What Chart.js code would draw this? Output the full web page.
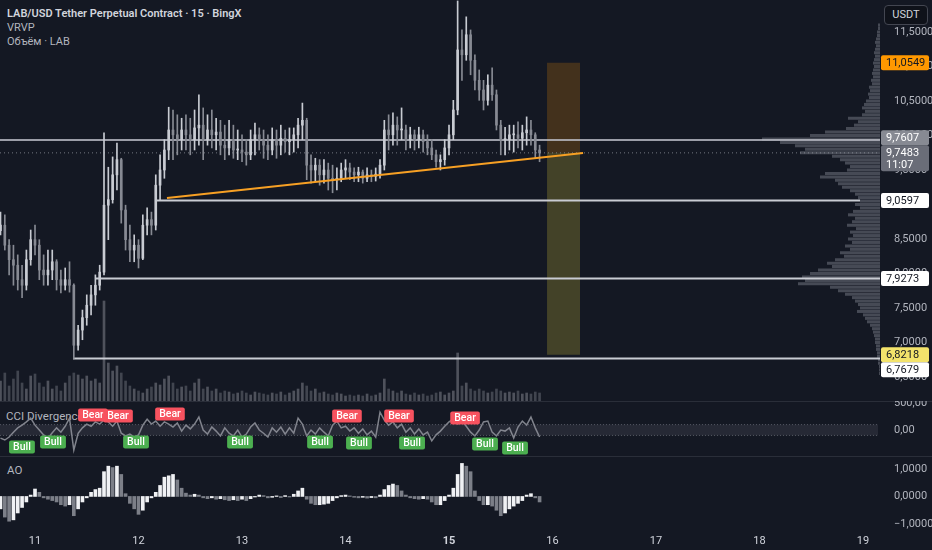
<!DOCTYPE html>
<html><head><meta charset="utf-8">
<script src="https://cdn.jsdelivr.net/npm/chart.js@4.4.1/dist/chart.umd.min.js"></script>
<style>
html,body{margin:0;padding:0;background:#141823;}
#wrap{position:relative;width:932px;height:550px;background:#141823;overflow:hidden;font-family:Roboto,"Noto Sans",sans-serif;}
.pane{position:absolute;left:0;width:932px;}
canvas{display:block}
.txt{position:absolute;white-space:nowrap;color:#b2b5be;font-size:11px;line-height:14px;}
.sep{position:absolute;left:0;width:932px;height:1px;background:#2a2e39;}
#usdt{position:absolute;left:884px;top:5px;width:42px;height:18px;border:1px solid #434651;border-radius:4px;background:#0f121a;color:#d1d4dc;font-size:11px;line-height:18px;text-align:center;}
</style></head><body>
<div id="wrap">
  <div class="txt" style="left:7px;top:7px;color:#d1d4dc;font-weight:600;">LAB/USD Tether Perpetual Contract · 15 · BingX</div>
  <div class="txt" style="left:7px;top:21px">VRVP</div>
  <div class="txt" style="left:7px;top:35px">Объём · LAB</div>
  <div class="txt" style="left:6px;top:409px;font-size:11.5px">CCI Divergence</div>
  <div class="txt" style="left:7px;top:463px;font-size:11.5px">AO</div>
  <div class="sep" style="top:401px"></div>
  <div class="sep" style="top:456px"></div>
  <div class="pane" style="top:0;height:401px"><canvas id="vp" width="932" height="401"></canvas></div>
  <div class="pane" style="top:0;height:401px"><canvas id="price" width="932" height="401"></canvas></div>
  <div class="pane" style="top:401px;height:55px"><canvas id="cci" width="932" height="55"></canvas></div>
  <div class="pane" style="top:456px;height:94px"><canvas id="ao" width="932" height="94"></canvas></div>
  <div id="usdt">USDT</div>
</div>
<script>
// ---------- data ----------
const X_MIN = 10.6618, X_MAX = 19.164;          // visible time range (days of month)
const T0 = 10 + 16 / 24;                         // first hourly candle: 10th 16:00
const open = [8.62,8.70,8.41,8.20,8.12,7.91,7.83,8.20,8.49,8.41,
8.05,7.98,8.05,8.17,7.91,7.83,7.91,7.83,6.96,7.18,
7.36,7.54,7.69,7.83,8.02,8.99,9.07,9.43,9.65,8.92,
8.49,8.34,8.41,8.22,8.70,8.78,8.70,9.28,9.50,9.79,
10.08,10.01,9.94,10.08,10.01,9.94,10.11,10.15,9.94,10.08,
10.01,10.05,9.86,9.82,9.94,9.79,9.79,9.76,9.72,9.94,
10.01,9.94,9.86,9.79,9.94,9.86,9.96,9.91,9.94,10.01,
10.15,10.22,9.57,9.50,9.57,9.43,9.50,9.38,9.36,9.38,
9.50,9.53,9.47,9.43,9.47,9.38,9.43,9.41,9.44,9.57,
10.08,10.01,10.15,10.08,10.08,9.94,10.01,9.94,10.01,9.91,
9.82,9.72,9.62,9.65,9.82,10.01,10.37,11.24,11.17,11.46,
11.09,10.80,10.66,10.51,10.73,10.59,10.15,9.94,9.94,10.01,
10.01,9.96,10.04,10.08,10.01,9.79];
const high = [8.89,8.85,8.49,8.41,8.27,8.12,8.34,8.63,8.70,8.49,
8.27,8.34,8.34,8.20,8.05,8.08,8.17,7.85,7.25,7.47,
7.69,7.83,7.98,8.12,10.04,9.54,9.69,9.89,9.67,8.99,
8.70,8.56,8.49,8.85,8.95,8.89,9.43,9.72,9.94,10.41,
10.37,10.30,10.25,10.30,10.25,10.37,10.59,10.40,10.30,10.37,
10.25,10.22,10.15,10.22,10.15,10.08,10.01,9.94,10.08,10.18,
10.11,10.08,10.01,10.11,10.08,10.15,10.08,10.11,10.11,10.25,
10.47,10.25,9.72,9.67,9.65,9.65,9.60,9.57,9.53,9.60,
9.65,9.60,9.53,9.54,9.50,9.53,9.50,9.53,9.65,10.22,
10.30,10.33,10.27,10.40,10.15,10.12,10.08,10.12,10.08,10.01,
9.94,9.79,9.72,9.94,10.15,10.51,11.95,11.53,11.72,11.53,
11.17,10.95,10.80,10.88,10.98,10.66,10.22,10.12,10.15,10.15,
10.20,10.15,10.27,10.22,10.04,9.86];
const low = [8.56,8.34,7.98,7.83,7.76,7.65,7.76,8.12,8.27,7.91,
7.83,7.83,7.91,7.76,7.72,7.76,7.73,6.7679,6.89,7.04,
7.25,7.40,7.54,7.76,7.98,8.49,9.02,9.21,8.73,8.34,
8.17,8.17,8.08,8.20,8.56,8.56,8.63,9.07,9.38,9.65,
9.65,9.72,9.79,9.79,9.72,9.79,9.86,9.65,9.86,9.82,
9.79,9.72,9.65,9.72,9.67,9.65,9.62,9.57,9.65,9.72,
9.79,9.67,9.65,9.72,9.67,9.72,9.76,9.72,9.76,9.82,
9.94,9.36,9.31,9.33,9.28,9.31,9.21,9.17,9.21,9.33,
9.38,9.36,9.33,9.33,9.31,9.33,9.33,9.34,9.38,9.50,
9.79,9.86,9.86,9.94,9.79,9.82,9.79,9.82,9.76,9.72,
9.65,9.54,9.50,9.57,9.72,9.94,10.30,10.80,11.09,10.88,
10.66,10.51,10.37,10.44,10.51,10.08,9.72,9.72,9.79,9.76,
9.82,9.79,9.86,9.86,9.67,9.62];
const close = [8.70,8.41,8.20,8.12,7.91,7.83,8.20,8.49,8.41,8.05,
7.98,8.05,8.17,7.91,7.83,7.91,7.83,6.96,7.18,7.36,
7.54,7.69,7.83,8.02,8.99,9.07,9.43,9.65,8.92,8.49,
8.34,8.41,8.22,8.70,8.78,8.70,9.28,9.50,9.79,10.08,
10.01,9.94,10.08,10.01,9.94,10.11,10.15,9.94,10.08,10.01,
10.05,9.86,9.82,9.94,9.79,9.79,9.76,9.72,9.94,10.01,
9.94,9.86,9.79,9.94,9.86,9.96,9.91,9.94,10.01,10.15,
10.22,9.57,9.50,9.57,9.43,9.50,9.38,9.36,9.38,9.50,
9.53,9.47,9.43,9.47,9.38,9.43,9.41,9.44,9.57,10.08,
10.01,10.15,10.08,10.08,9.94,10.01,9.94,10.01,9.91,9.82,
9.72,9.62,9.65,9.82,10.01,10.37,11.24,11.17,11.46,11.09,
10.80,10.66,10.51,10.73,10.59,10.15,9.94,9.94,10.01,10.01,
9.96,10.04,10.08,10.01,9.79,9.7483];
const volume = [20,28,15,22,30,18,12,25,27,18,
14,20,12,15,10,18,25,28,26,22,
25,20,22,18,100,38,30,35,28,20,
15,12,10,8,12,14,18,16,22,25,
18,12,14,15,10,18,22,12,14,10,
12,8,10,9,7,8,10,8,6,9,
8,7,6,8,7,9,6,8,10,12,
18,15,10,12,8,9,7,6,8,7,
5,6,5,6,5,7,5,6,8,22,
12,10,8,10,7,6,8,6,7,5,
6,8,9,6,8,10,48,15,18,12,
10,12,10,8,9,12,10,8,9,8,
10,7,8,7,9,8];
const cci = [-150,-185,-130,-40,40,90,150,220,90,0,
-90,-150,-50,40,-40,70,220,-370,-60,40,
110,70,150,110,185,150,70,165,-60,-110,
-75,-130,-90,90,200,110,165,70,150,110,
55,130,-20,90,20,110,240,0,-75,55,
-20,-110,40,-60,-110,0,-130,-75,55,130,
0,-60,-130,40,-40,55,-75,40,-60,220,
110,-110,0,-75,40,-40,-110,90,165,40,
70,-20,40,-60,20,-90,-20,-130,330,185,
90,150,40,110,-40,40,-75,20,-90,-40,
-200,-90,-20,70,150,200,110,165,70,-40,
-110,0,150,165,-40,-110,0,-20,40,-150,
55,165,90,240,40,-130];
const ao = [-0.45,-0.75,-0.9,-0.85,-0.6,-0.4,-0.2,0.05,0.27,0.15,
-0.05,-0.1,-0.15,-0.2,-0.3,-0.35,-0.3,-0.7,-0.45,-0.2,
-0.05,0.15,0.25,0.3,0.9,1.1,1.05,1.1,0.8,0.1,
-0.25,-0.45,-0.65,-0.5,-0.2,-0.05,0.15,0.4,0.7,0.75,
0.8,0.6,0.3,0.12,0.05,0.08,0.05,-0.05,-0.08,-0.05,
-0.1,-0.08,-0.12,-0.15,-0.12,-0.15,-0.1,-0.15,-0.08,-0.02,
0.05,0.03,-0.05,-0.03,0.02,-0.04,0.03,-0.02,0.08,0.2,
0.3,-0.1,-0.25,-0.3,-0.3,-0.28,-0.25,-0.15,-0.05,0.03,
0.05,0.02,-0.03,-0.05,-0.03,-0.06,-0.04,-0.05,0.05,0.25,
0.4,0.45,0.4,0.2,0.05,-0.05,-0.08,-0.1,-0.08,-0.1,
-0.2,-0.3,-0.3,-0.15,0.05,0.3,0.8,1.2,1.1,0.9,
0.2,-0.15,-0.3,-0.3,-0.35,-0.5,-0.7,-0.6,-0.45,-0.35,
-0.25,-0.15,0.05,0.1,-0.05,-0.2];
// volume profile (VRVP): price bins of 0.05 from 6.55 up to 11.60
const vpStart = 6.55, vpStep = 0.05;
const vpVol = [1,1,1,2,2,3,3,4,4,5,
5,6,7,8,10,13,15,17,23,20,
22,25,28,35,42,50,82,75,78,70,
62,48,53,45,36,40,30,35,28,32,
27,30,24,33,28,25,32,27,20,25,
20,22,25,30,38,42,45,60,55,33,
30,35,40,48,80,75,85,100,118,70,
55,34,26,22,32,18,15,18,16,14,
11,12,10,11,8,9,7,8,7,6,
7,6,5,6,5,4,5,4,3,3,
2,2];
// horizontal levels
const hLevel = [9.935, 9.0597, 7.9273, 6.7679];
const hFrom  = [X_MIN, 12.159, 11.580, 11.367];
const hTo    = [X_MAX, 18.971, X_MAX, X_MAX];
const lastPrice = 9.7483;
const trendX = [12.275, 16.295], trendY = [9.094, 9.746];
const boxX = [15.947, 16.266], boxTop = 11.0549, boxMid = 9.7483, boxBot = 6.8218;
const priceTicks = [6.5,7,7.5,8,8.5,9,9.5,10,10.5,11,11.5];
const priceTags = [
  {v:9.7483, t:'9,7483', t2:'11:07', bg:'#6a6d78', fg:'#ffffff', pri:0},
  {v:6.8218, t:'6,8218', bg:'#f3e36b', fg:'#131722', pri:0},
  {v:11.0549, t:'11,0549', bg:'#ff9800', fg:'#131722', pri:1},
  {v:9.0597, t:'9,0597', bg:'#ffffff', fg:'#131722', pri:1},
  {v:7.9273, t:'7,9273', bg:'#ffffff', fg:'#131722', pri:1},
  {v:9.7607, t:'9,7607', bg:'#878a93', fg:'#ffffff', pri:2},
  {v:6.7679, t:'6,7679', bg:'#ffffff', fg:'#131722', pri:2}
];
const bullX = [10.874,11.174,11.976,12.981,13.754,14.130,14.643,15.348,15.638];
const bullV = [-315,-222,-222,-222,-222,-241,-241,-259,-333];
const bearX = [11.560,11.802,12.304,14.014,14.517,15.155];
const bearV = [278,259,296,259,259,222];
const dayTicks = [11,12,13,14,15,16,17,18,19];

// ---------- helpers ----------
const FONT = 'Roboto, "Noto Sans", sans-serif';
const times = close.map((_, i) => T0 + i / 24);
const UPC = '#c8cbd2', DNC = '#878a93';
const isUp = i => close[i] >= open[i];
const fmt = (v, d) => (v < 0 ? '−' : '') + Math.abs(v).toFixed(d).replace('.', ',');
const yAxisFit = s => { s.width = 52; s.paddingTop = 0; s.paddingBottom = 0; };
const rightTicks = {color:'#b2b5be', font:{family:FONT, size:11}, padding:6};
const baseOpts = {
  responsive:false, animation:false, events:[],
  plugins:{legend:{display:false}, tooltip:{enabled:false}},
  layout:{padding:0}
};
function hline(y, x0, x1, color, width, dash, order){
  return {type:'line', data:[{x:x0,y:y},{x:x1,y:y}], borderColor:color, borderWidth:width,
          borderDash:dash||[], pointRadius:0, fill:false, order:order, yAxisID:'y'};
}

// ---------- VRVP ----------
new Chart(document.getElementById('vp'), {
  type:'bar',
  data:{datasets:[{
    data: vpVol.map((w, i) => ({x:w, y: vpStart + i * vpStep})),
    backgroundColor:'rgba(120,123,135,0.5)', borderWidth:0,
    barPercentage:0.88, categoryPercentage:1
  }]},
  options:Object.assign({}, baseOpts, {
    indexAxis:'y',
    layout:{padding:{right:52}},
    scales:{
      y:{type:'linear', min:6.152, max:11.964, display:false, offset:false},
      x:{type:'linear', min:0, max:880, reverse:true, display:false}
    }
  })
});

// ---------- price pane ----------
const tagPlugin = {
  id:'tags',
  afterDraw(chart){
    const ctx = chart.ctx, ys = chart.scales.y;
    const placed = [];
    const list = priceTags.slice().sort((a,b)=>a.pri-b.pri);
    list.forEach(tg => {
      const h = tg.t2 ? 26 : 15;
      let top = ys.getPixelForValue(tg.v) - 7.5;
      for (let k=0;k<10;k++){
        const hit = placed.find(p => top < p.top + p.h && top + h > p.top);
        if (!hit) break;
        top = tg.v > hit.v ? hit.top - h : hit.top + hit.h;
      }
      placed.push({v:tg.v, top:top, h:h});
      ctx.save();
      ctx.fillStyle = tg.bg;
      ctx.beginPath(); ctx.roundRect(881, top, 48, h, 2); ctx.fill();
      ctx.fillStyle = tg.fg;
      ctx.font = '11px ' + FONT;
      ctx.textAlign = 'left'; ctx.textBaseline = 'middle';
      ctx.fillText(tg.t, 886, top + 8);
      if (tg.t2) ctx.fillText(tg.t2, 886, top + 20);
      ctx.restore();
    });
  }
};
new Chart(document.getElementById('price'), {
  type:'bar',
  data:{datasets:[
    {type:'bar', yAxisID:'vol', order:20, grouped:false, barThickness:2,
     data: times.map((t,i)=>({x:t, y:volume[i]})),
     backgroundColor: times.map((t,i)=> isUp(i) ? 'rgba(150,153,162,0.45)' : 'rgba(110,113,124,0.5)')},
    {type:'line', yAxisID:'y', order:15, data: boxX.map(x=>({x:x,y:boxTop})), borderWidth:0, pointRadius:0,
     fill:'+1', backgroundColor:'rgba(255,152,0,0.2)'},
    {type:'line', yAxisID:'y', order:15, data: boxX.map(x=>({x:x,y:boxMid})), borderWidth:0, pointRadius:0,
     fill:'+1', backgroundColor:'rgba(255,235,59,0.2)'},
    {type:'line', yAxisID:'y', order:15, data: boxX.map(x=>({x:x,y:boxBot})), borderWidth:0, pointRadius:0, fill:false},
    hline(hLevel[0], hFrom[0], hTo[0], 'rgba(190,193,201,0.8)', 2, null, 10),
    hline(hLevel[1], hFrom[1], hTo[1], '#c9ccd3', 2, null, 10),
    hline(hLevel[2], hFrom[2], hTo[2], '#c9ccd3', 2, null, 10),
    hline(hLevel[3], hFrom[3], hTo[3], '#c9ccd3', 2, null, 10),
    hline(lastPrice, X_MIN, X_MAX, 'rgba(150,153,162,0.75)', 1, [1,3], 10),
    {type:'bar', yAxisID:'y', order:3, grouped:false, barThickness:1,
     data: times.map((t,i)=>({x:t, y:[low[i], high[i]]})),
     backgroundColor: times.map((t,i)=> isUp(i) ? UPC : DNC)},
    {type:'bar', yAxisID:'y', order:2, grouped:false, barThickness:2, minBarLength:1,
     data: times.map((t,i)=>({x:t, y:[open[i], close[i]]})),
     backgroundColor: times.map((t,i)=> isUp(i) ? UPC : DNC)},
    {type:'line', yAxisID:'y', order:1, data: trendX.map((x,i)=>({x:x,y:trendY[i]})),
     borderColor:'#f7a024', borderWidth:2, pointRadius:0, fill:false}
  ]},
  options:Object.assign({}, baseOpts, {
    scales:{
      x:{type:'linear', min:X_MIN, max:X_MAX, display:false, offset:false},
      y:{type:'linear', position:'right', min:6.152, max:11.964,
         grid:{display:false}, border:{display:false},
         afterBuildTicks: s => { s.ticks = priceTicks.map(v=>({value:v})); },
         afterFit: yAxisFit,
         ticks:Object.assign({}, rightTicks, {callback: v => fmt(v,4)})},
      vol:{type:'linear', min:0, max:401, display:false}
    }
  }),
  plugins:[tagPlugin]
});

// ---------- CCI pane ----------
const cciTagPlugin = {
  id:'cciTags',
  afterDatasetsDraw(chart){
    const ctx = chart.ctx, xs = chart.scales.x, ys = chart.scales.y;
    function tag(d, v, text, bg){
      const x = xs.getPixelForValue(d), y = ys.getPixelForValue(v);
      ctx.font = '500 10.5px ' + FONT;
      const w = ctx.measureText(text).width + 8, h = 13;
      ctx.fillStyle = bg;
      ctx.beginPath(); ctx.roundRect(x - w/2, y - h/2, w, h, 2); ctx.fill();
      ctx.fillStyle = '#ffffff'; ctx.textAlign = 'center'; ctx.textBaseline = 'middle';
      ctx.fillText(text, x, y + 0.5);
    }
    ctx.save();
    bullX.forEach((d,i)=>tag(d, bullV[i], 'Bull', '#4caf50'));
    bearX.forEach((d,i)=>tag(d, bearV[i], 'Bear', '#f7525f'));
    ctx.restore();
  }
};
new Chart(document.getElementById('cci'), {
  type:'line',
  data:{datasets:[
    {data:[{x:X_MIN,y:100},{x:19.145,y:100}], borderColor:'rgba(120,123,134,0.6)', borderWidth:1, borderDash:[1,2],
     pointRadius:0, fill:'+1', backgroundColor:'rgba(149,152,161,0.14)'},
    {data:[{x:X_MIN,y:-100},{x:19.145,y:-100}], borderColor:'rgba(120,123,134,0.6)', borderWidth:1, borderDash:[1,2],
     pointRadius:0, fill:false},
    {data: times.map((t,i)=>({x:t, y:cci[i]})), borderColor:'#80838c', borderWidth:1.5, pointRadius:0,
     fill:false, tension:0}
  ]},
  options:Object.assign({}, baseOpts, {
    scales:{
      x:{type:'linear', min:X_MIN, max:X_MAX, display:false},
      y:{type:'linear', position:'right', min:-481, max:537,
         grid:{display:false}, border:{display:false},
         afterBuildTicks: s => { s.ticks = [{value:0},{value:500}]; },
         afterFit: yAxisFit,
         ticks:Object.assign({}, rightTicks, {callback: v => fmt(v,2)})}
    }
  }),
  plugins:[cciTagPlugin]
});

// ---------- AO pane + time axis ----------
new Chart(document.getElementById('ao'), {
  type:'bar',
  data:{datasets:[{
    grouped:false, barThickness:3,
    data: times.map((t,i)=>({x:t, y:ao[i]})),
    backgroundColor: ao.map((v,i)=> (i === 0 || v >= ao[i-1]) ? '#f0f1f4' : '#7c7f88')
  }]},
  options:Object.assign({}, baseOpts, {
    scales:{
      x:{type:'linear', min:X_MIN, max:X_MAX, offset:false,
         grid:{display:false}, border:{display:false},
         afterBuildTicks: s => { s.ticks = dayTicks.map(v=>({value:v})); },
         afterFit: s => { s.height = 23; s.paddingLeft = 0; s.paddingRight = 0; },
         ticks:{color:'#d1d4dc', padding:0, maxRotation:0, autoSkip:false,
                font: c => ({family:FONT, size:11, weight: (c.tick && c.tick.value === 15) ? 'bold' : 'normal'}),
                callback: v => String(v)}},
      y:{type:'linear', position:'right', min:-1.11, max:1.47,
         grid:{display:false}, border:{display:false},
         afterBuildTicks: s => { s.ticks = [{value:-1},{value:0},{value:1}]; },
         afterFit: yAxisFit,
         ticks:Object.assign({}, rightTicks, {callback: v => fmt(v,4)})}
    }
  })
});
</script>
</body></html>
